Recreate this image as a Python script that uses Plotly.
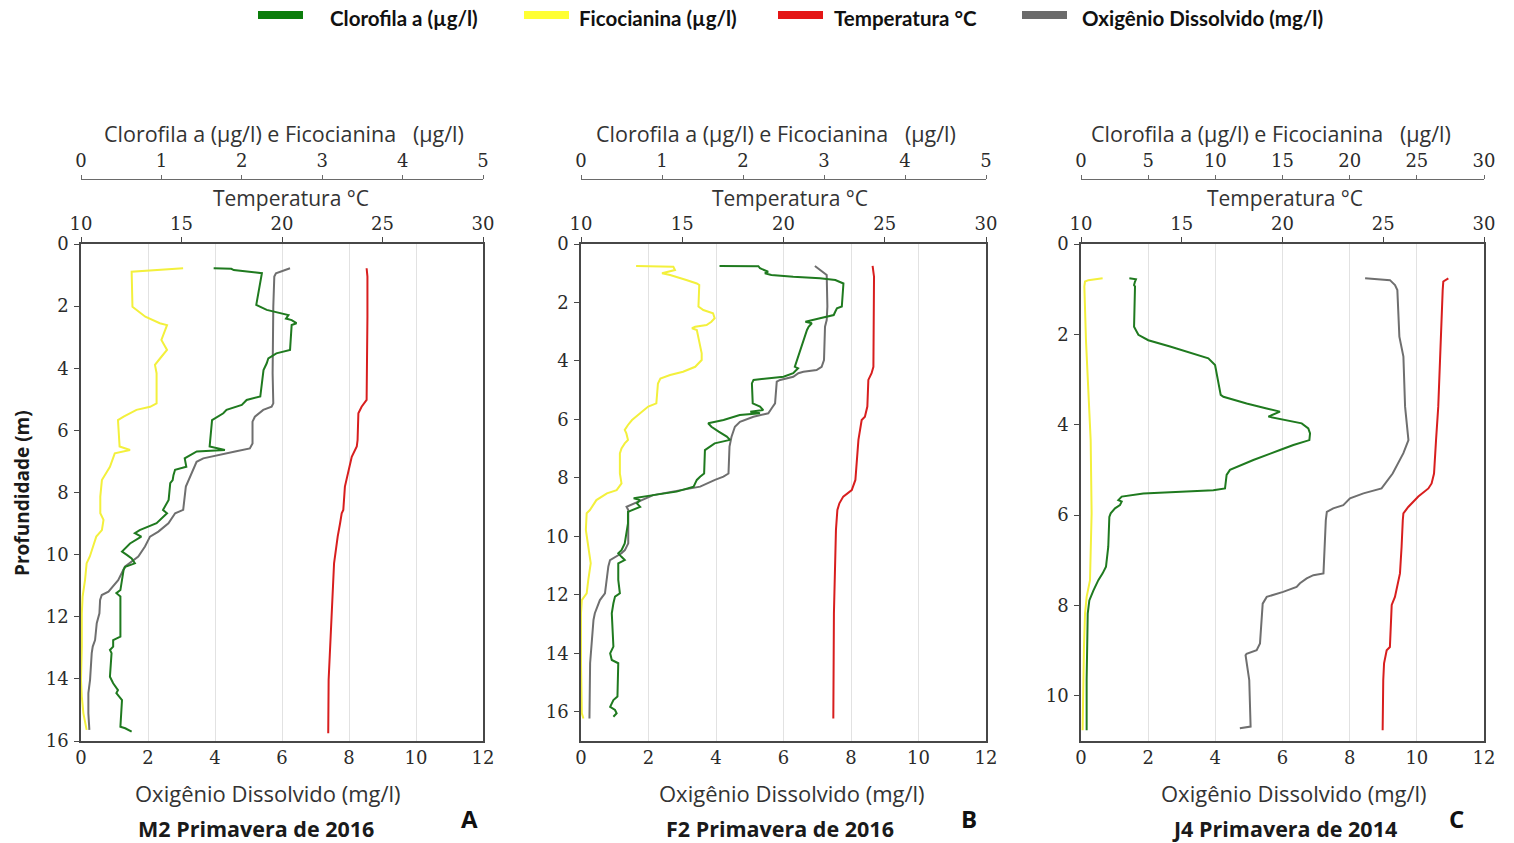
import plotly.graph_objects as go

# ---------------- data: vertical profiles (depth in m) ----------------
# Station M2, spring 2016
m2_fico_depth = [0.78, 0.89, 2.02, 2.34, 2.55, 2.61, 3.09, 3.41, 3.63, 3.89, 4.16, 5.13, 5.24, 5.34, 5.56, 5.67,
                 6.52, 6.63, 6.74, 7.17, 7.60, 8.13, 8.67, 8.88, 9.21, 9.42, 9.74, 10.06, 10.28, 10.82, 11.35,
                 11.89, 12.96, 14.03, 14.57, 15.11, 15.64]
m2_fico = [1.27, 0.63, 0.64, 0.80, 0.98, 1.07, 1.00, 1.07, 1.00, 0.92, 0.94, 0.94, 0.86, 0.69, 0.53, 0.46,
           0.48, 0.61, 0.42, 0.36, 0.26, 0.24, 0.24, 0.28, 0.26, 0.19, 0.15, 0.11, 0.07, 0.05, 0.02,
           0.01, 0.01, 0.00, 0.01, 0.03, 0.07]
m2_clor_depth = [0.78, 0.80, 0.84, 0.94, 1.96, 2.12, 2.29, 2.40, 2.45, 2.55, 2.61, 3.41, 3.52, 3.68, 3.84, 4.06,
                 4.91, 5.02, 5.18, 5.34, 5.45, 5.56, 5.67, 6.52, 6.63, 6.68, 6.90, 7.17, 7.27, 7.44, 7.60,
                 7.70, 8.24, 8.56, 8.67, 8.99, 9.21, 9.31, 9.42, 9.64, 9.90, 10.01, 10.12, 10.28, 10.39, 10.49,
                 11.14, 11.24, 11.35, 12.64, 12.75, 12.96, 13.07, 13.17, 13.93, 14.14, 14.36, 14.46, 14.68,
                 15.54, 15.59, 15.70]
m2_clor = [1.65, 1.87, 1.90, 2.25, 2.18, 2.31, 2.58, 2.55, 2.62, 2.68, 2.62, 2.60, 2.43, 2.33, 2.31, 2.27,
           2.23, 2.06, 2.00, 1.81, 1.77, 1.69, 1.63, 1.60, 1.79, 1.44, 1.29, 1.31, 1.17, 1.15, 1.14,
           1.11, 1.09, 1.02, 1.07, 0.94, 0.73, 0.67, 0.75, 0.61, 0.51, 0.57, 0.63, 0.67, 0.55, 0.53,
           0.49, 0.44, 0.49, 0.49, 0.40, 0.40, 0.36, 0.38, 0.36, 0.40, 0.46, 0.44, 0.51,
           0.49, 0.55, 0.63]
m2_temp_depth = [0.78, 1.05, 2.34, 5.02, 5.24, 5.45, 6.31, 6.52, 6.85, 7.38, 7.81, 8.56, 8.67, 8.99, 9.42,
                 10.28, 11.89, 12.96, 14.03, 15.75]
m2_temp = [24.21, 24.25, 24.25, 24.21, 23.96, 23.80, 23.76, 23.72, 23.47, 23.30, 23.13, 23.05, 22.97, 22.89,
           22.77, 22.59, 22.47, 22.39, 22.32, 22.30]
m2_od_depth = [0.78, 0.94, 1.05, 2.02, 4.16, 5.13, 5.24, 5.34, 5.56, 5.72, 6.42, 6.58, 6.68, 6.79, 6.90, 7.01,
               7.38, 7.81, 8.56, 8.67, 8.99, 9.26, 9.42, 9.74, 10.06, 10.22, 10.39, 10.82, 11.19, 11.30, 11.46,
               11.89, 12.21, 12.75, 12.96, 13.17, 14.03, 14.46, 15.11, 15.64]
m2_od = [6.24, 5.82, 5.77, 5.74, 5.72, 5.74, 5.69, 5.44, 5.19, 5.12, 5.12, 5.04, 4.60, 4.15, 3.65, 3.45,
         3.30, 3.13, 3.05, 2.81, 2.61, 2.31, 2.06, 1.91, 1.71, 1.51, 1.31, 1.11, 0.82, 0.62, 0.57,
         0.55, 0.47, 0.42, 0.35, 0.32, 0.27, 0.22, 0.22, 0.25]

# Station F2, spring 2016
f2_fico_depth = [0.75, 0.78, 0.89, 1.00, 1.06, 1.12, 1.23, 1.35, 1.40, 2.14, 2.26, 2.37, 2.54, 2.66, 2.77, 2.83,
                 2.88, 2.94, 3.74, 3.97, 4.20, 4.37, 4.48, 4.60, 4.77, 5.45, 5.56, 5.79, 6.02, 6.19, 6.36, 6.48,
                 6.70, 6.82, 6.99, 7.16, 7.85, 8.19, 8.42, 8.53, 8.76, 9.10, 9.21, 9.78, 10.35, 10.92, 11.49,
                 11.95, 12.18, 12.63, 14.34, 16.05, 16.23]
f2_fico = [0.68, 1.14, 1.16, 1.00, 1.10, 1.18, 1.30, 1.43, 1.46, 1.45, 1.51, 1.63, 1.65, 1.61, 1.55, 1.41,
           1.37, 1.43, 1.49, 1.49, 1.41, 1.26, 1.10, 0.98, 0.95, 0.93, 0.83, 0.73, 0.63, 0.58, 0.54, 0.56,
           0.58, 0.54, 0.50, 0.48, 0.48, 0.50, 0.44, 0.32, 0.19, 0.11, 0.07, 0.06, 0.09, 0.12, 0.09,
           0.07, 0.01, 0.00, 0.00, 0.01, 0.03]
f2_clor_depth = [0.75, 0.76, 0.83, 0.95, 1.00, 1.06, 1.12, 1.17, 1.23, 1.35, 2.14, 2.20, 2.31, 2.43, 2.54, 2.66,
                 2.71, 2.83, 2.94, 3.74, 4.20, 4.25, 4.42, 4.54, 4.65, 4.77, 5.45, 5.56, 5.68, 5.74, 5.79, 5.85,
                 6.02, 6.13, 6.25, 6.42, 6.59, 6.70, 6.76, 6.82, 7.05, 7.85, 7.96, 8.07, 8.30, 8.47, 8.59, 8.70,
                 8.76, 8.87, 8.99, 9.10, 9.16, 9.56, 9.90, 10.24, 10.47, 10.58, 10.70, 10.81, 10.92, 11.49,
                 11.95, 12.06, 12.29, 12.63, 13.77, 14.00, 14.23, 14.34, 15.48, 15.60, 15.83, 15.94, 16.05,
                 16.17]
f2_clor = [1.71, 2.19, 2.21, 2.31, 2.27, 2.35, 2.62, 2.95, 3.14, 3.24, 3.22, 3.16, 3.14, 3.12, 2.95, 2.77,
           2.85, 2.81, 2.79, 2.70, 2.64, 2.68, 2.62, 2.50, 2.13, 2.11, 2.12, 2.21, 2.25, 2.09, 2.21, 1.96,
           1.76, 1.57, 1.61, 1.70, 1.80, 1.84, 1.72, 1.65, 1.53, 1.52, 1.47, 1.43, 1.39, 1.18, 0.89, 0.65,
           0.73, 0.69, 0.73, 0.63, 0.58, 0.58, 0.56, 0.54, 0.50, 0.46, 0.50, 0.54, 0.46, 0.46,
           0.48, 0.42, 0.40, 0.38, 0.40, 0.36, 0.38, 0.46, 0.45, 0.40, 0.36, 0.42, 0.44,
           0.40]
f2_temp_depth = [0.75, 1.12, 4.20, 4.42, 4.65, 5.56, 5.91, 6.02, 6.70, 7.85, 8.07, 8.42, 8.64, 8.87, 9.10,
                 9.78, 10.92, 12.63, 16.23]
f2_temp = [24.40, 24.47, 24.44, 24.35, 24.19, 24.14, 24.02, 23.86, 23.70, 23.58, 23.55, 23.37, 22.95, 22.76,
           22.66, 22.59, 22.54, 22.49, 22.46]
f2_od_depth = [0.75, 0.95, 1.06, 2.14, 2.60, 2.83, 3.97, 4.20, 4.31, 4.37, 4.42, 4.54, 4.65, 4.71, 5.45, 5.62,
               5.79, 5.91, 6.08, 6.25, 6.59, 6.93, 7.85, 7.96, 8.07, 8.30, 8.59, 8.99, 9.10, 10.24, 10.47,
               10.58, 10.64, 10.81, 11.03, 11.49, 11.95, 12.18, 12.63, 12.86, 13.77, 14.34, 16.23]
f2_od = [6.93, 7.18, 7.28, 7.30, 7.28, 7.23, 7.20, 7.13, 6.98, 6.59, 6.44, 6.29, 5.90, 5.80, 5.75, 5.65,
         5.55, 5.11, 4.71, 4.56, 4.46, 4.40, 4.37, 4.22, 3.97, 3.53, 2.14, 1.35, 1.40, 1.40, 1.30,
         1.20, 1.11, 0.86, 0.81, 0.76, 0.71, 0.56, 0.41, 0.37, 0.32, 0.27, 0.25]

# Station J4, spring 2014
j4_fico_depth = [0.76, 0.80, 0.83, 0.94, 2.13, 3.60, 4.34, 5.96, 7.44, 7.81, 8.18, 8.92, 10.39, 10.76]
j4_fico = [1.61, 0.55, 0.30, 0.25, 0.37, 0.62, 0.72, 0.79, 0.67, 0.42, 0.30, 0.22, 0.12, 0.12]
j4_clor_depth = [0.76, 0.78, 0.83, 0.91, 0.94, 1.83, 2.01, 2.13, 2.27, 2.38, 2.53, 2.68, 3.34, 3.38, 3.53,
                 3.64, 3.71, 3.82, 3.90, 3.97, 4.08, 4.19, 4.34, 4.45, 4.56, 4.78, 5.00, 5.11, 5.41, 5.45,
                 5.52, 5.56, 5.59, 5.67, 5.70, 5.78, 5.85, 5.96, 6.04, 6.70, 7.14, 7.29, 7.44, 7.67, 7.89,
                 8.18, 9.65, 10.76]
j4_clor = [3.60, 4.09, 4.02, 3.95, 4.02, 3.95, 4.27, 5.01, 6.63, 7.87, 9.48, 9.98, 10.40, 10.60, 12.33,
           13.82, 14.81, 13.95, 15.31, 16.43, 16.92, 17.05, 17.00, 15.81, 14.81, 12.83, 11.09, 10.84, 10.72, 9.85,
           4.64, 3.65, 3.03, 2.78, 3.03, 2.90, 2.53, 2.21, 2.11, 2.03, 1.86, 1.61, 1.29, 0.92, 0.62,
           0.50, 0.42, 0.42]
j4_temp_depth = [0.76, 0.83, 1.02, 2.13, 2.86, 3.60, 4.34, 5.08, 5.30, 5.41, 5.59, 5.82, 5.96, 6.11, 6.70,
                 7.29, 7.81, 7.99, 8.92, 8.99, 9.28, 9.65, 10.76]
j4_temp = [28.23, 27.98, 27.95, 27.87, 27.82, 27.73, 27.62, 27.52, 27.40, 27.24, 26.74, 26.24, 26.00, 25.97,
           25.91, 25.83, 25.58, 25.42, 25.33, 25.17, 25.04, 25.00, 24.97]
j4_od_depth = [0.76, 0.80, 0.91, 1.02, 2.05, 2.49, 3.60, 4.34, 4.63, 5.08, 5.41, 5.52, 5.63, 5.78, 5.85, 5.93,
               6.11, 7.29, 7.33, 7.40, 7.51, 7.59, 7.70, 7.81, 7.96, 8.84, 8.99, 9.07, 9.10, 9.65, 10.68, 10.72]
j4_od = [8.46, 9.20, 9.35, 9.42, 9.48, 9.60, 9.65, 9.75, 9.60, 9.28, 8.95, 8.41, 8.01, 7.81, 7.51, 7.32,
         7.29, 7.22, 6.92, 6.72, 6.52, 6.42, 6.02, 5.53, 5.41, 5.33, 5.23, 4.93, 4.90, 5.01, 5.05, 4.73]

# ---------------- panel setup ----------------
stations = [
    dict(name="M2 Primavera de 2016", letter="A", depth_max=16, depth_ticks=list(range(0, 17, 2)),
         chl_max=5, chl_dtick=1,
         fico=(m2_fico_depth, m2_fico), clor=(m2_clor_depth, m2_clor),
         temp=(m2_temp_depth, m2_temp), od=(m2_od_depth, m2_od),
         px=(81, 483), chl_title_x=284, temp_title_x=291, od_title_x=268, name_x=256, letter_x=469),
    dict(name="F2 Primavera de 2016", letter="B", depth_max=17, depth_ticks=list(range(0, 17, 2)),
         chl_max=5, chl_dtick=1,
         fico=(f2_fico_depth, f2_fico), clor=(f2_clor_depth, f2_clor),
         temp=(f2_temp_depth, f2_temp), od=(f2_od_depth, f2_od),
         px=(581, 986), chl_title_x=776, temp_title_x=790, od_title_x=792, name_x=780, letter_x=969),
    dict(name="J4 Primavera de 2014", letter="C", depth_max=11, depth_ticks=list(range(0, 11, 2)),
         chl_max=30, chl_dtick=5,
         fico=(j4_fico_depth, j4_fico), clor=(j4_clor_depth, j4_clor),
         temp=(j4_temp_depth, j4_temp), od=(j4_od_depth, j4_od),
         px=(1081, 1484), chl_title_x=1271, temp_title_x=1285, od_title_x=1294, name_x=1284, letter_x=1456),
]

W, H = 1514, 843
PLOT_TOP, PLOT_BOTTOM, CHL_AXIS_Y = 244, 741, 179


def fx(p):
    return p / W


def fy(p):
    return 1 - p / H


C_CLOR = "#1f7a1f"
C_FICO = "#f3f03c"
C_TEMP = "#d81e1e"
C_OD = "#6f6f6f"
FRAME = "#474747"
SERIF = "DejaVu Serif, Liberation Serif, serif"
TICK_FONT = dict(family=SERIF, size=18, color="#2b2b2b")
TITLE_FONT = dict(family="Open Sans", size=21, color="#333333")

fig = go.Figure()
layout = dict(width=W, height=H, margin=dict(l=0, r=0, t=0, b=0, autoexpand=False),
              plot_bgcolor="white", paper_bgcolor="white", showlegend=False, annotations=[], shapes=[],
              font=dict(family=SERIF, size=18, color="#2b2b2b"))

for i, st in enumerate(stations):
    n_od, n_t, n_c = 3 * i + 1, 3 * i + 2, 3 * i + 3
    key = lambda n: "xaxis" if n == 1 else f"xaxis{n}"
    ref = lambda n: "x" if n == 1 else f"x{n}"
    yk = "yaxis" if i == 0 else f"yaxis{i + 1}"
    yr = "y" if i == 0 else f"y{i + 1}"
    dom = [fx(st["px"][0]), fx(st["px"][1])]

    layout[key(n_od)] = dict(domain=dom, anchor=yr, range=[0, 12], dtick=2, tick0=0, automargin=False,
                             showgrid=True, gridcolor="#e2e2e2", gridwidth=1, zeroline=False,
                             showline=True, linecolor=FRAME, linewidth=1.6, ticks="",
                             tickfont=TICK_FONT, ticklabelstandoff=0)
    layout[key(n_t)] = dict(overlaying=ref(n_od), anchor=yr, side="top", range=[10, 30], dtick=5,
                            tick0=10, automargin=False, showgrid=False, zeroline=False, showline=True,
                            linecolor=FRAME, linewidth=1.6, ticks="outside", ticklen=5, tickcolor=FRAME,
                            tickwidth=1.2, tickfont=TICK_FONT, ticklabelstandoff=0)
    layout[key(n_c)] = dict(overlaying=ref(n_od), anchor="free", position=fy(CHL_AXIS_Y), side="top",
                            range=[0, st["chl_max"]], dtick=st["chl_dtick"], tick0=0, automargin=False,
                            showgrid=False, zeroline=False, showline=True, linecolor="#6a6a6a",
                            linewidth=1.3, ticks="outside", ticklen=4, tickcolor="#6a6a6a", tickwidth=1.2,
                            tickfont=TICK_FONT, ticklabelstandoff=1)
    layout[yk] = dict(domain=[fy(PLOT_BOTTOM), fy(PLOT_TOP)], anchor=ref(n_od), automargin=False,
                      range=[st["depth_max"], 0], tickvals=st["depth_ticks"], showgrid=False,
                      zeroline=False, showline=True, mirror=True, linecolor=FRAME, linewidth=1.6,
                      ticks="outside", ticklen=5, tickcolor=FRAME, tickwidth=1.2, tickfont=TICK_FONT,
                      ticklabelstandoff=2)

    series = [("fico", C_FICO, n_c), ("clor", C_CLOR, n_c), ("od", C_OD, n_od), ("temp", C_TEMP, n_t)]
    for skey, color, n in series:
        depth, val = st[skey]
        fig.add_trace(go.Scatter(x=val, y=depth, mode="lines", line=dict(color=color, width=2),
                                 xaxis=ref(n), yaxis=yr, hoverinfo="skip"))

    ann = layout["annotations"]
    ann.append(dict(text="Clorofila a (µg/l) e Ficocianina \u00a0\u00a0(µg/l)", x=fx(st["chl_title_x"]),
                    y=fy(134), xref="paper", yref="paper", showarrow=False,
                    font=dict(family="Open Sans", size=21.5, color="#333333"),
                    xanchor="center", yanchor="middle"))
    ann.append(dict(text="Temperatura °C", x=fx(st["temp_title_x"]), y=fy(198), xref="paper",
                    yref="paper", showarrow=False, font=TITLE_FONT, xanchor="center", yanchor="middle"))
    ann.append(dict(text="Oxigênio Dissolvido (mg/l)", x=fx(st["od_title_x"]), y=fy(793), xref="paper",
                    yref="paper", showarrow=False,
                    font=dict(family="Open Sans", size=22, color="#333333"),
                    xanchor="center", yanchor="middle"))
    ann.append(dict(text="<b>%s</b>" % st["name"], x=fx(st["name_x"]), y=fy(828), xref="paper",
                    yref="paper", showarrow=False,
                    font=dict(family="Open Sans", size=21.5, color="#1a1a1a"),
                    xanchor="center", yanchor="middle"))
    ann.append(dict(text="<b>%s</b>" % st["letter"], x=fx(st["letter_x"]), y=fy(818), xref="paper",
                    yref="paper", showarrow=False,
                    font=dict(family="Open Sans", size=24, color="#111111"),
                    xanchor="center", yanchor="middle"))

layout["annotations"].append(dict(text="<b>Profundidade (m)</b>", x=fx(22), y=fy(493), xref="paper",
                                  yref="paper", showarrow=False, textangle=-90,
                                  font=dict(family="Open Sans", size=19, color="#1a1a1a"),
                                  xanchor="center", yanchor="middle"))

# legend row
legend_items = [("Clorofila a (µg/l)", "#0b7d0b", 258, 328),
                ("Ficocianina (µg/l)", "#ffff33", 524, 577),
                ("Temperatura °C", "#e41616", 778, 832),
                ("Oxigênio Dissolvido (mg/l)", "#6b6b6b", 1022, 1080)]
for label, color, sx, tx in legend_items:
    layout["shapes"].append(dict(type="rect", xref="paper", yref="paper", x0=fx(sx), x1=fx(sx + 45),
                                 y0=fy(19), y1=fy(11), fillcolor=color, line=dict(width=0)))
    layout["annotations"].append(dict(text="<b>%s</b>" % label, x=fx(tx), y=fy(18), xref="paper",
                                      yref="paper", showarrow=False, xanchor="left", yanchor="middle",
                                      font=dict(family="Lato", size=20.5, color="#111111")))

fig.update_layout(**layout)
# the page body keeps no default margin so the figure fills the window exactly
fig.write_html("out.html", post_script="document.body.style.margin='0px';")
